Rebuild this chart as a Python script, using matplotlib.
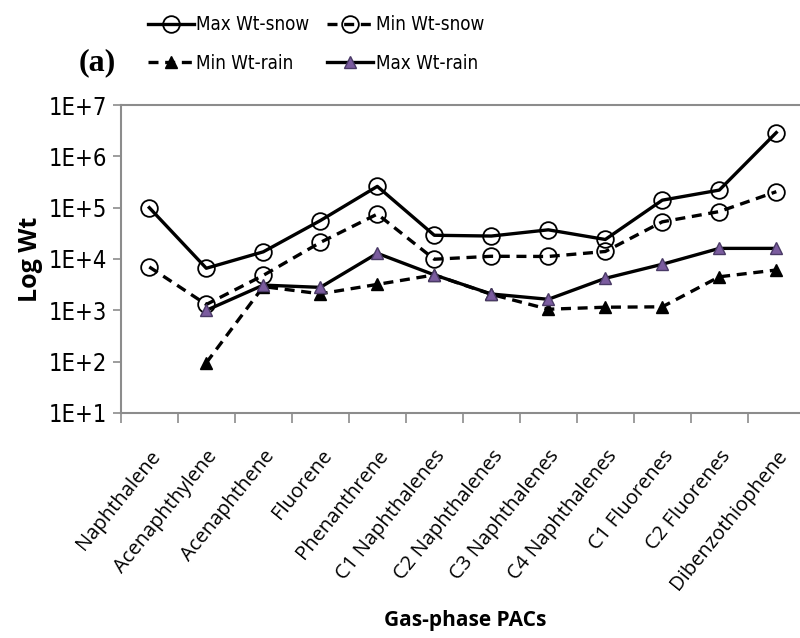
import numpy as np
import matplotlib
matplotlib.use('Agg')
import matplotlib.pyplot as plt

compounds = ['Naphthalene', 'Acenaphthylene', 'Acenaphthene', 'Fluorene',
             'Phenanthrene', 'C1 Naphthalenes', 'C2 Naphthalenes',
             'C3 Naphthalenes', 'C4 Naphthalenes', 'C1 Fluorenes',
             'C2 Fluorenes', 'Dibenzothiophene']

max_snow = [1.0e5, 6.6e3, 1.38e4, 5.6e4, 2.6e5, 2.9e4, 2.8e4, 3.7e4, 2.4e4, 1.4e5, 2.2e5, 2.9e6]
min_snow = [7.0e3, 1.3e3, 4.8e3, 2.1e4, 7.5e4, 9.9e3, 1.13e4, 1.12e4, 1.4e4, 5.3e4, 8.4e4, 2.05e5]
min_rain = [np.nan, 95, 2.9e3, 2.1e3, 3.2e3, 4.9e3, 2.05e3, 1.05e3, 1.15e3, 1.17e3, 4.5e3, 6.1e3]
max_rain = [np.nan, 1.0e3, 3.1e3, 2.8e3, 1.29e4, 4.9e3, 2.08e3, 1.64e3, 4.2e3, 7.9e3, 1.61e4, 1.61e4]

ytick_labels = ['1E+1', '1E+2', '1E+3', '1E+4', '1E+5', '1E+6', '1E+7']

narrow = dict(family='DejaVu Sans', stretch='condensed')
x = np.arange(len(compounds))

fig = plt.figure(figsize=(8, 6.38), dpi=100)
ax = fig.add_axes([0.151, 0.3527, 0.855, 0.4827])

lw = 2.4
h1, = ax.plot(x, max_snow, '-', color='black', lw=lw, marker='o', ms=12,
              mfc='none', mec='black', mew=1.3, label='Max Wt-snow')
h2, = ax.plot(x, min_snow, '--', color='black', lw=lw, dashes=(3, 2), marker='o', ms=12,
              mfc='none', mec='black', mew=1.3, label='Min Wt-snow')
h3, = ax.plot(x, min_rain, '--', color='black', lw=lw, dashes=(3, 2), marker='^', ms=8,
              mfc='black', mec='black', label='Min Wt-rain')
h4, = ax.plot(x, max_rain, '-', color='black', lw=lw, marker='^', ms=9,
              mfc='#7b5c9f', mec='#4a3a66', mew=1.0, label='Max Wt-rain')

ax.set_yscale('log')
ax.set_ylim(10, 1e7)
ax.set_yticks([10.0 ** k for k in range(1, 8)])
ax.set_yticklabels(ytick_labels, fontsize=17, **narrow)
ax.yaxis.set_minor_locator(matplotlib.ticker.NullLocator())
ax.tick_params(axis='y', length=6, width=1.2, color='#8c8c8c', pad=4)

ax.set_xlim(-0.5, len(compounds) - 0.5)
ax.set_xticks(x)
ax.set_xticklabels(compounds, rotation=51, ha='right', rotation_mode='anchor',
                   fontfamily='Open Sans', fontsize=14.5)
ax.set_xticks(np.arange(-0.5, len(compounds)), minor=True)
ax.tick_params(axis='x', which='major', length=0, pad=24)
ax.tick_params(axis='x', which='minor', length=7, width=1.2, color='#8c8c8c')

for side in ['left', 'bottom', 'top', 'right']:
    ax.spines[side].set_color('#8c8c8c')
    ax.spines[side].set_linewidth(1.5)

ax.set_ylabel('Log Wt', fontfamily='Open Sans', fontweight='bold', fontsize=18, labelpad=4)
fig.text(0.581, 0.028, 'Gas-phase PACs', ha='center', va='center',
         fontfamily='Open Sans', fontweight='bold', fontsize=15)

fig.text(0.121, 0.901, '(a)', ha='center', va='center', fontfamily='Liberation Serif',
         fontweight='bold', fontsize=23)

# column-wise fill: first column snow max / rain min, second column snow min / rain max
fig.legend(handles=[h1, h3, h2, h4], loc='center', bbox_to_anchor=(0.395, 0.931),
           ncol=2, frameon=False, prop=dict(size=13.5, **narrow),
           handlelength=2.45, handletextpad=0.15, columnspacing=0.95, labelspacing=1.05)

fig.savefig('out.png', dpi=100)
